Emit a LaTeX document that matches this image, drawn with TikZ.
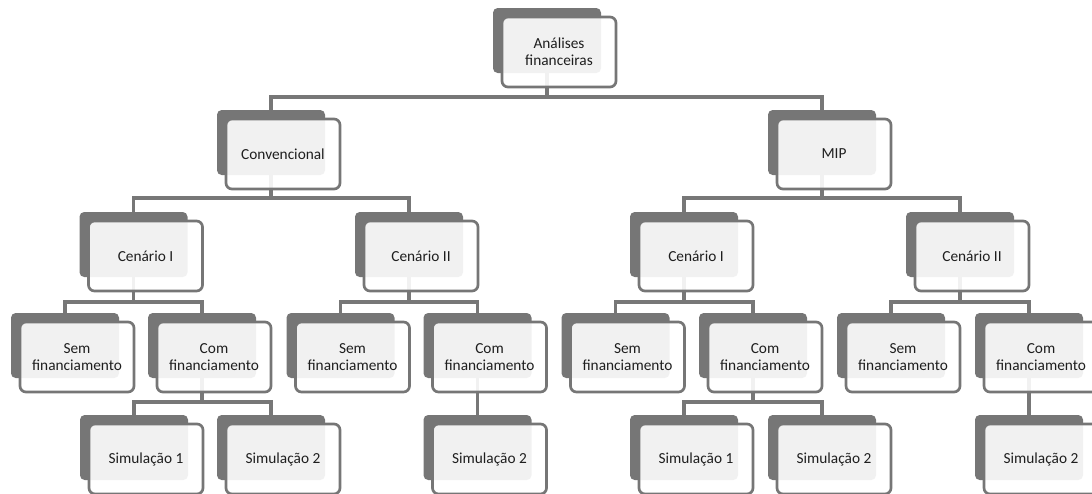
\documentclass[tikz,border=0pt]{standalone}
\usepackage{fontspec}
\setmainfont{Carlito}
\usetikzlibrary{backgrounds}
\definecolor{boxgray}{HTML}{767676}
\definecolor{linegray}{HTML}{777777}
\definecolor{txt}{HTML}{1E1E1E}
\newcommand\treenode[4]{%
  \node[backbox] (#1-back) at (#2,#3+32.5) {};
  \node[frontbox] (#1) at (#2+12,#3+44) {#4};
}
\newcommand\treelink[3]{%
  \draw[conn] (#1-back.south) -- (#1-back.south |- 0,#3) -| (#2-back.north);
}
\begin{document}
\begin{tikzpicture}[x=0.75pt,y=-0.75pt,
  backbox/.style={fill=boxgray, minimum width=81pt, minimum height=48.75pt, inner sep=0pt, rounded corners=3.5pt},
  frontbox/.style={draw=boxgray, line width=2pt, fill=white, fill opacity=0.9, text opacity=1, minimum width=85.5pt, minimum height=52.5pt, inner sep=0pt, rounded corners=4.5pt, align=center, font=\fontsize{11.5}{12.5}\selectfont, text=txt},
  conn/.style={draw=linegray, line width=2.3pt}]
\clip (0,0) rectangle (1092,493);
% level 1
\treenode{root}{547}{8}{Análises\\financeiras}
% level 2
\treenode{conv}{271}{110}{Convencional}
\treenode{mip}{822}{110}{MIP}
% level 3
\treenode{ca}{133.5}{212}{Cenário I}
\treenode{cb}{409}{212}{Cenário II}
\treenode{ma}{684}{212}{Cenário I}
\treenode{mb}{960}{212}{Cenário II}
% level 4
\treenode{cas}{65}{313}{Sem\\financiamento}
\treenode{cac}{202}{313}{Com\\financiamento}
\treenode{cbs}{340.5}{313}{Sem\\financiamento}
\treenode{cbc}{477.5}{313}{Com\\financiamento}
\treenode{mas}{615.5}{313}{Sem\\financiamento}
\treenode{mac}{753}{313}{Com\\financiamento}
\treenode{mbs}{891}{313}{Sem\\financiamento}
\treenode{mbc}{1029}{313}{Com\\financiamento}
% level 5
\treenode{sim-ca1}{134}{415}{Simulação 1}
\treenode{sim-ca2}{271}{415}{Simulação 2}
\treenode{sim-cb2}{477.5}{415}{Simulação 2}
\treenode{sim-ma1}{684}{415}{Simulação 1}
\treenode{sim-ma2}{822}{415}{Simulação 2}
\treenode{sim-mb2}{1029}{415}{Simulação 2}
\begin{scope}[on background layer]
\treelink{root}{conv}{97}
\treelink{root}{mip}{97}
\treelink{conv}{ca}{198}
\treelink{conv}{cb}{198}
\treelink{mip}{ma}{198}
\treelink{mip}{mb}{198}
\treelink{ca}{cas}{302}
\treelink{ca}{cac}{302}
\treelink{cb}{cbs}{302}
\treelink{cb}{cbc}{302}
\treelink{ma}{mas}{302}
\treelink{ma}{mac}{302}
\treelink{mb}{mbs}{302}
\treelink{mb}{mbc}{302}
\treelink{cac}{sim-ca1}{402}
\treelink{cac}{sim-ca2}{402}
\treelink{cbc}{sim-cb2}{402}
\treelink{mac}{sim-ma1}{402}
\treelink{mac}{sim-ma2}{402}
\treelink{mbc}{sim-mb2}{402}
\end{scope}
\end{tikzpicture}
\end{document}
